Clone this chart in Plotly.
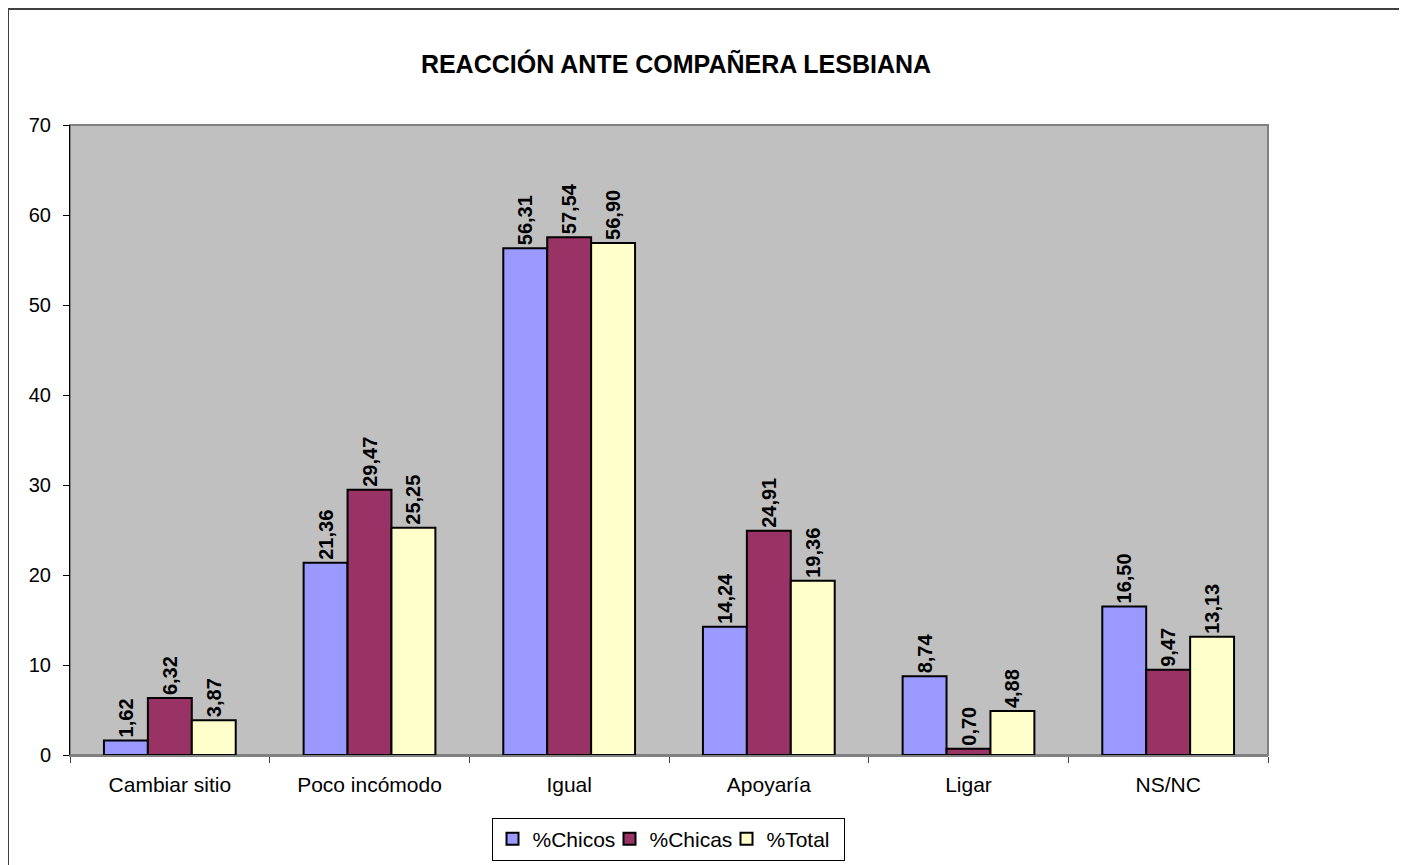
import plotly.graph_objects as go

categories = ["Cambiar sitio", "Poco incómodo", "Igual", "Apoyaría", "Ligar", "NS/NC"]
chicos = [1.62, 21.36, 56.31, 14.24, 8.74, 16.50]
chicas = [6.32, 29.47, 57.54, 24.91, 0.70, 9.47]
total = [3.87, 25.25, 56.90, 19.36, 4.88, 13.13]
series_names = ["%Chicos", "%Chicas", "%Total"]
colors = ["#9999FF", "#993366", "#FFFFCC"]

OFF = 8  # page body margin
W, H = 1407 - OFF, 865 - OFF
# target plot area in window pixels
PX0, PX1, PY0, PY1 = 70, 1268, 125, 755
L = PX0 - OFF
R = W - (PX1 - OFF)
T = PY0 - OFF
B = H - (PY1 - OFF)


def fmt(v):
    return f"{v:.2f}".replace(".", ",") + "\u00a0"


fig = go.Figure()
for name, vals, col in zip(series_names, [chicos, chicas, total], colors):
    fig.add_trace(go.Bar(
        x=categories, y=vals, name=name,
        marker=dict(color=col, line=dict(color="black", width=2)),
        text=[fmt(v) for v in vals], textposition="outside", textangle=-90,
        constraintext="none",
        textfont=dict(family="Liberation Sans, Arial", size=20, color="black", weight="bold"),
        cliponaxis=False,
    ))

pw = PX1 - PX0
ph = PY1 - PY0


def px2x(p):
    return (p - PX0) / pw


def px2y(p):
    return (PY1 - p) / ph


fig.update_layout(
    width=W, height=H,
    margin=dict(l=L, r=R, t=T, b=B, autoexpand=False),
    paper_bgcolor="white", plot_bgcolor="#C0C0C0",
    barmode="group", bargap=0.34, bargroupgap=0,
    uniformtext=dict(minsize=20, mode="show"),
    font=dict(family="Liberation Sans, Arial", size=21, color="black"),
    title=dict(text="<b>REACCIÓN ANTE COMPAÑERA LESBIANA</b>", x=px2x(676), xref="paper",
               xanchor="center", y=1 - (64 - OFF) / H, yanchor="middle",
               font=dict(size=25, color="black")),
    showlegend=True,
    legend=dict(orientation="h", x=px2x(668), xanchor="center", y=px2y(839), yanchor="middle",
                bordercolor="black", borderwidth=1, bgcolor="white",
                font=dict(size=21), itemwidth=30, tracegroupgap=0,
                entrywidth=72, entrywidthmode="pixels"),
    xaxis=dict(showgrid=False, ticks="outside", tickson="boundaries", ticklen=6,
               tickcolor="#404040", showline=True, linecolor="#808080", linewidth=2,
               tickfont=dict(size=21), ticklabelstandoff=10),
    yaxis=dict(range=[0, 70], dtick=10, showgrid=False, ticks="outside", ticklen=6,
               tickcolor="black", showline=True, linecolor="black", linewidth=1,
               zeroline=False, tickfont=dict(size=20), ticklabelstandoff=8),
    shapes=[
        dict(type="rect", xref="paper", yref="paper", x0=0, x1=1, y0=0, y1=1,
             line=dict(color="#808080", width=2), layer="below"),
        dict(type="rect", xref="paper", yref="paper", x0=px2x(8), x1=px2x(1402),
             y0=px2y(866), y1=px2y(9), line=dict(color="#404040", width=2), layer="below"),
    ],
)

fig.write_html("out.html")
